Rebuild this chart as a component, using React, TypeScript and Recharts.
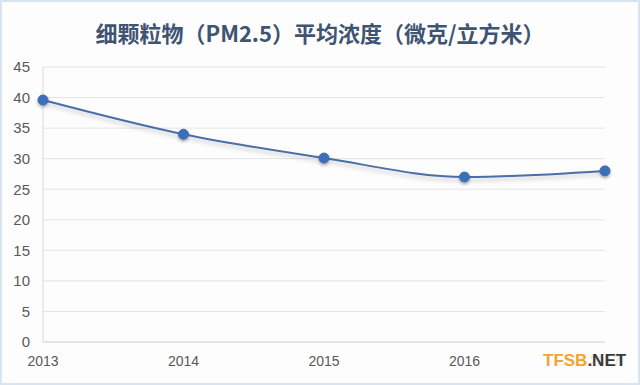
import React from 'react';
import { LineChart, Line, XAxis, YAxis, CartesianGrid, Customized } from 'recharts';

const years = ['2013', '2014', '2015', '2016', '2017'];
const pm25 = [39.6, 34.0, 30.1, 27.0, 28.0];
const yTicks = [0, 5, 10, 15, 20, 25, 30, 35, 40, 45];
const title = '细颗粒物（PM2.5）平均浓度（微克/立方米）';

const data = years.map((y, i) => ({ year: y, value: pm25[i] }));

const Border = () => (
  <rect x={1} y={1} width={638} height={383} fill="none" stroke="#d9e4f0" strokeWidth={2} />
);

export default function App() {
  return (
    <div style={{ position: 'absolute', left: 0, top: 0, width: 640, height: 385, background: '#fdfdfd' }}>
      <style>{`.pm-line .recharts-line-curve { filter: drop-shadow(0px 3px 2px rgba(60,60,80,0.28)); }
      .pm-line .recharts-line-dots circle { filter: drop-shadow(0px 2px 1.5px rgba(40,40,60,0.35)); }`}</style>
      <div
        style={{
          position: 'absolute',
          left: 0,
          top: 16,
          width: 640,
          textAlign: 'center',
          fontFamily: '"Noto Sans CJK SC", "Open Sans", sans-serif',
          fontWeight: 700,
          fontSize: 22,
          color: '#3f5373',
          lineHeight: '32px',
        }}
      >
        {title}
      </div>
      <LineChart
        width={640}
        height={385}
        data={data}
        margin={{ top: 67, right: 35, bottom: 0, left: 0 }}
        className="pm-line"
      >
        <Customized component={Border} />
        <CartesianGrid horizontal vertical={false} stroke="#e4e4e4" />
        <XAxis
          dataKey="year"
          height={43}
          tickLine={false}
          axisLine={{ stroke: '#d9d9d9' }}
          tickSize={0}
          tickMargin={14}
          tick={{ fill: '#595959', fontSize: 14, fontFamily: '"Liberation Sans", sans-serif' }}
          interval={0}
        />
        <YAxis
          width={43}
          domain={[0, 45]}
          ticks={yTicks}
          interval={0}
          tickLine={false}
          axisLine={{ stroke: '#d9d9d9' }}
          tickSize={0}
          tickMargin={13}
          tick={{ fill: '#595959', fontSize: 15, fontFamily: '"Liberation Sans", sans-serif' }}
        />
        <Line
          type="monotone"
          dataKey="value"
          stroke="#4a6fa8"
          strokeWidth={2}
          dot={{ r: 5, fill: '#3c6fb7', stroke: '#3c6fb7', strokeWidth: 1 }}
          activeDot={false}
          isAnimationActive={false}
        />
      </LineChart>
      <div
        style={{
          position: 'absolute',
          left: 543,
          top: 351,
          fontFamily: '"Liberation Sans", sans-serif',
          fontWeight: 700,
          fontSize: 17,
          lineHeight: '20px',
          background: 'rgba(253,253,253,0.85)',
        }}
      >
        <span style={{ color: '#f5a52a' }}>TFSB</span>
        <span style={{ color: '#3a3a3a' }}>.NET</span>
      </div>
    </div>
  );
}
